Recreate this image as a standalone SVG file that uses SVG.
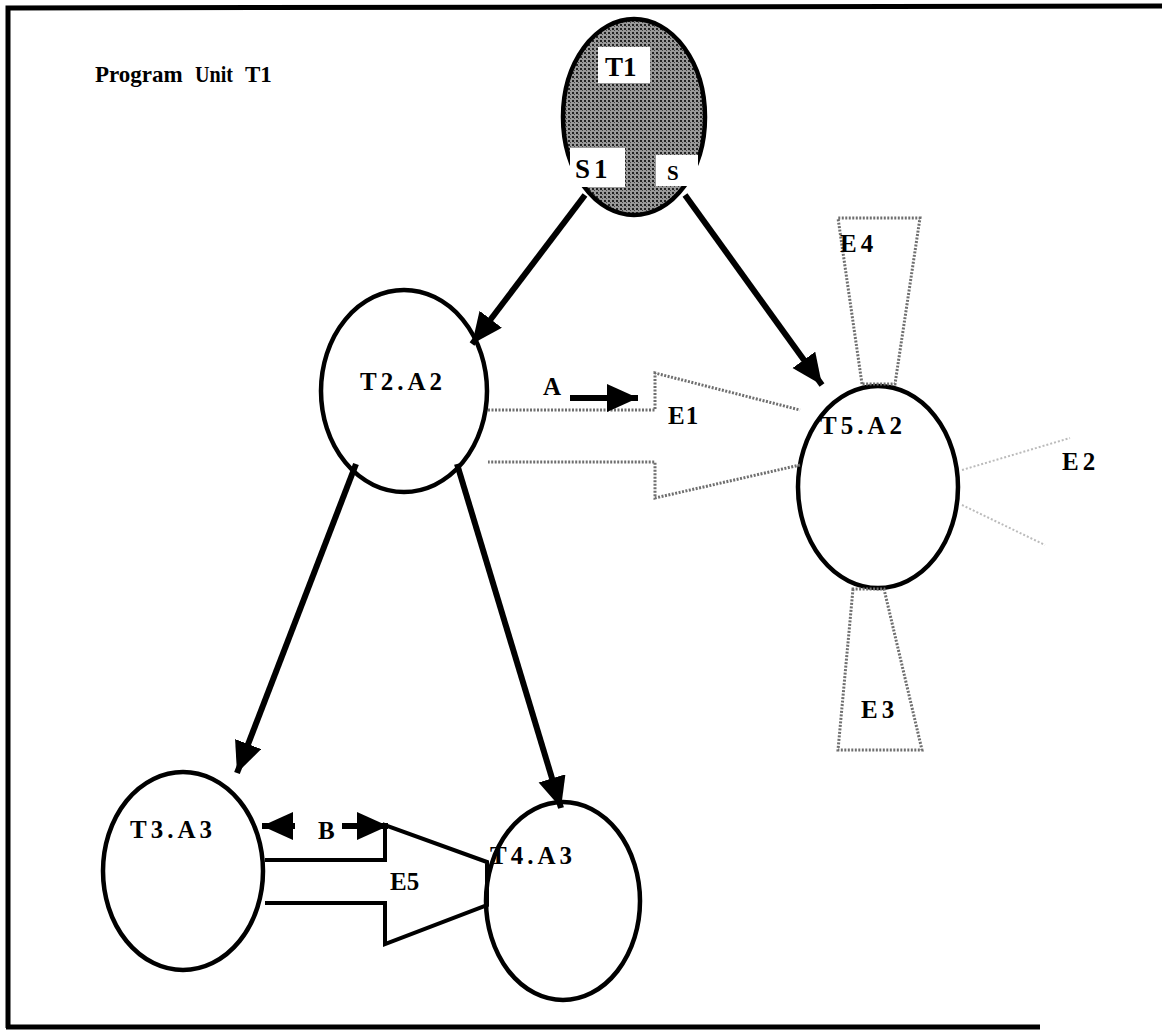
<svg xmlns="http://www.w3.org/2000/svg" width="1162" height="1030" viewBox="0 0 1162 1030">
<style>
.node{fill:#fff;stroke:#000;stroke-width:4.5}
.lbl{font-family:"Liberation Serif",serif;font-weight:bold;font-size:25px;fill:#000;letter-spacing:4px}
.ttl{font-family:"Liberation Serif",serif;font-weight:bold;font-size:23px;fill:#000}
.edge{stroke:#000;stroke-width:6;fill:none;marker-end:url(#ah)}
.dot{fill:none;stroke:#6f6f6f;stroke-width:3;stroke-dasharray:2 1.5}
.faint{fill:none;stroke:#bbb;stroke-width:2;stroke-dasharray:2 2}
</style>
<defs>
<marker id="ah" markerUnits="userSpaceOnUse" markerWidth="34" markerHeight="30" refX="31" refY="14" orient="auto">
<path d="M0,0 L31,14 L0,28 Z" fill="#000"/>
</marker>
<pattern id="stip" width="4" height="4" patternUnits="userSpaceOnUse">
<rect width="4" height="4" fill="#9a9a9a"/>
<rect x="0" y="0" width="2" height="2" fill="#222"/>
<rect x="2" y="2" width="1" height="1" fill="#444"/>
</pattern>
</defs>
<rect width="1162" height="1030" fill="#fff"/>
<g id="frame" stroke="#000" stroke-width="5" fill="none">
<path d="M8,1028 L8,8 L1162,6"/>
<path d="M6,1027 L1040,1027"/>
</g>
<g id="title">
<text class="ttl" x="95" y="82">Program</text>
<text class="ttl" x="195" y="82" textLength="38" lengthAdjust="spacingAndGlyphs">Unit</text>
<text class="ttl" x="245" y="82">T1</text>
</g>
<g id="T1">
<ellipse cx="634" cy="117" rx="71" ry="98" fill="url(#stip)" stroke="#000" stroke-width="4.5"/>
<rect x="598" y="47" width="52" height="36" fill="#fff"/>
<text class="lbl" x="605" y="76" style="letter-spacing:0;font-size:27px">T1</text>
<rect x="570" y="148" width="55" height="39" fill="#fff"/>
<text class="lbl" x="575" y="178" style="font-size:27px">S1</text>
<rect x="656" y="155" width="42" height="31" fill="#fff"/>
<text class="lbl" x="667" y="180" style="font-size:21px">S</text>
</g>
<g id="T2">
<ellipse class="node" cx="404" cy="391" rx="83" ry="101"/>
<text class="lbl" x="360" y="390">T2.A2</text>
</g>
<g id="T5">
<ellipse class="node" cx="878" cy="487" rx="80" ry="101"/>
<text class="lbl" x="820" y="434">T5.A2</text>
</g>
<g id="T3">
<ellipse class="node" cx="183" cy="871" rx="80" ry="99"/>
<text class="lbl" x="130" y="838">T3.A3</text>
</g>
<g id="T4">
<ellipse class="node" cx="563" cy="901" rx="77" ry="99"/>
<text class="lbl" x="490" y="864">T4.A3</text>
</g>
<g id="E1">
<path class="dot" d="M488,410 L655,410 L655,373 L800,410 M800,465 L655,498 L655,462 L488,462"/>
<text class="lbl" x="668" y="424" style="letter-spacing:1px">E1</text>
</g>
<g id="E2">
<path class="faint" d="M962,470 L1070,438 M962,505 L1045,545"/>
<text class="lbl" x="1062" y="470">E2</text>
</g>
<g id="E4">
<path class="dot" d="M862,384 L838,218 L920,218 L895,384 Z"/>
<text class="lbl" x="840" y="252">E4</text>
</g>
<g id="E3">
<path class="dot" d="M853,589 L838,750 L922,750 L884,589 Z"/>
<text class="lbl" x="861" y="718">E3</text>
</g>
<g id="E5">
<path d="M265,860 L385,860 L385,825 L487,862 L487,905 L385,944 L385,903 L265,903" fill="none" stroke="#000" stroke-width="4"/>
<text class="lbl" x="390" y="890" style="letter-spacing:0">E5</text>
</g>
<g id="connectors">
<line class="edge" x1="585" y1="195" x2="472" y2="344"/>
<line class="edge" x1="685" y1="195" x2="822" y2="385"/>
<line class="edge" x1="356" y1="464" x2="237" y2="773"/>
<line class="edge" x1="457" y1="464" x2="561" y2="808"/>
<line class="edge" x1="570" y1="398" x2="638" y2="398"/>
<line class="edge" x1="295" y1="826" x2="262" y2="826"/>
<line class="edge" x1="342" y1="826" x2="388" y2="826"/>
<text class="lbl" x="318" y="839">B</text>
<text class="lbl" x="543" y="395">A</text>
</g>
</svg>
